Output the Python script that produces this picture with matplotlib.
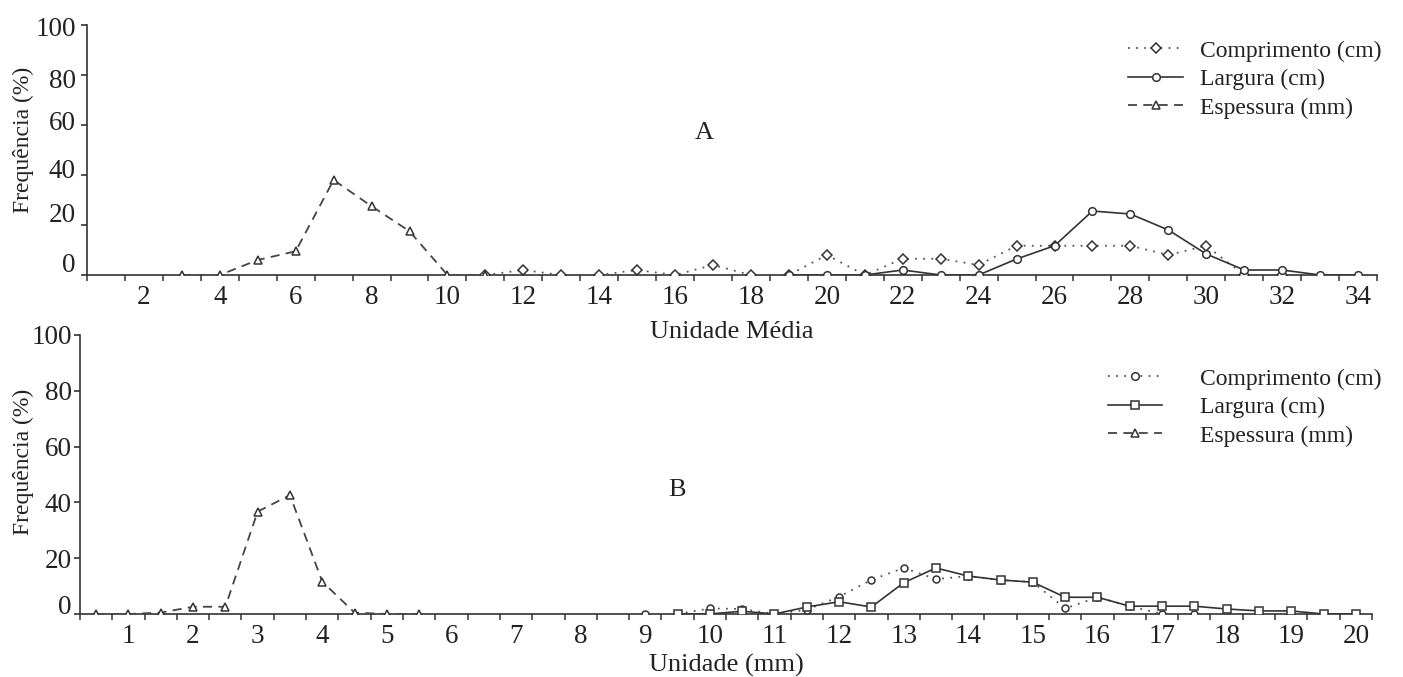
import matplotlib
matplotlib.use("Agg")
import matplotlib.pyplot as plt
from matplotlib.transforms import ScaledTranslation
from matplotlib.lines import Line2D

plt.rcParams['font.family'] = ['Liberation Serif', 'DejaVu Serif']

# ---------------- data: panel A ----------------
x_esp_a = [3, 4, 5, 6, 7, 8, 9, 10, 11]
esp_a = [0, 0, 6, 9.5, 38, 27.5, 17.5, 0, 0]

x_comp_a = [11, 12, 13, 14, 15, 16, 17, 18, 19, 20, 21, 22, 23, 24, 25, 26,
            27, 28, 29, 30, 31, 32]
comp_a = [0, 2, 0, 0, 2, 0, 4, 0, 0, 8, 0, 6.5, 6.5, 4, 11.7, 11.7,
          11.7, 11.7, 8, 11.7, 0, 0]

x_larg_a = [19, 20, 21, 22, 23, 24, 25, 26, 27, 28, 29, 30, 31, 32, 33, 34]
larg_a = [0, 0, 0, 2, 0, 0, 6.4, 11.7, 25.6, 24.4, 18, 8.4, 2, 2, 0, 0]

xticks_a = [2, 4, 6, 8, 10, 12, 14, 16, 18, 20, 22, 24, 26, 28, 30, 32, 34]

# ---------------- data: panel B ----------------
x_esp_b = [0.5, 1, 1.5, 2, 2.5, 3, 3.5, 4, 4.5, 5, 5.5]
esp_b = [0, 0, 0.5, 2.6, 2.6, 36.7, 42.6, 11.6, 0.5, 0, 0]

x_comp_b = [9, 9.5, 10, 10.5, 11, 11.5, 12, 12.5, 13, 13.5, 14, 14.5, 15,
            15.5, 16, 16.5, 17, 17.5]
comp_b = [0, 0, 2, 1.8, 0, 1.5, 6.2, 12.2, 16.5, 12.5, 13.6, 12.2, 11.4,
          2, 6, 2.8, 0, 0]

x_larg_b = [9.5, 10, 10.5, 11, 11.5, 12, 12.5, 13, 13.5, 14, 14.5, 15, 15.5,
            16, 16.5, 17, 17.5, 18, 18.5, 19, 19.5, 20]
larg_b = [0, 0, 1, 0, 2.5, 4.4, 2.5, 11.2, 16.5, 13.6, 12.2, 11.4, 6,
          6, 2.8, 2.8, 2.8, 1.8, 1.1, 1.1, 0, 0]

xticks_b = list(range(1, 21))
yticks = [0, 20, 40, 60, 80, 100]

labels = ['Comprimento (cm)', 'Largura (cm)', 'Espessura (mm)']

# ---------------- figure ----------------
W, H = 1403, 677
fig = plt.figure(figsize=(W / 100, H / 100), dpi=100)
fig.patch.set_facecolor('white')

ax1 = fig.add_axes([87 / W, 1 - 275 / H, 1290 / W, 250 / H])
ax2 = fig.add_axes([80 / W, 1 - 614 / H, 1292 / W, 279 / H])
ax1.set_facecolor('none')
ax2.set_facecolor('none')

dot_style = dict(color='#555555', lw=1.3, ls=(0, (1, 3.5)), mfc='white',
                 mec='#333333', mew=1.1, zorder=3)
sol_style = dict(color='#333333', lw=1.2, ls='-', mfc='white',
                 mec='#333333', mew=1.1, zorder=4)
das_style = dict(color='#444444', lw=1.3, ls=(0, (5, 3.5)), mfc='white',
                 mec='#333333', mew=1.1, zorder=3)

# panel A
ax1.plot(x_comp_a, comp_a, marker='D', ms=5, **dot_style)
ax1.plot(x_larg_a, larg_a, marker='o', ms=5.5, **sol_style)
ax1.plot(x_esp_a, esp_a, marker='^', ms=5.5, **das_style)

# panel B
ax2.plot(x_comp_b, comp_b, marker='o', ms=5, **dot_style)
ax2.plot(x_larg_b, larg_b, marker='s', ms=5.5, **sol_style)
ax2.plot(x_esp_b, esp_b, marker='^', ms=5.5, **das_style)

TICK_FS = 19.5


def style_axis(ax, xlim, xt, minor_start, minor_step, ylab_pad, xlab_pad):
    ax.set_xlim(*xlim)
    ax.set_ylim(0, 100)
    for s in ['top', 'right']:
        ax.spines[s].set_visible(False)
    for s in ['left', 'bottom']:
        ax.spines[s].set_color('#333333')
        ax.spines[s].set_linewidth(1.2)
    ax.set_xticks(xt)
    ax.set_xticklabels([str(v) for v in xt])
    minors = []
    v = minor_start
    while v <= xlim[1] + 1e-9:
        minors.append(v)
        v += minor_step
    ax.set_xticks(minors, minor=True)
    ax.tick_params(axis='x', which='major', length=0, pad=xlab_pad,
                   labelsize=TICK_FS, colors='#222222')
    ax.tick_params(axis='x', which='minor', length=4, width=1.1,
                   direction='out', color='#333333')
    ax.set_yticks(yticks)
    ax.set_yticklabels([str(v) for v in yticks])
    ax.tick_params(axis='y', which='major', length=4, width=1.1,
                   direction='out', pad=ylab_pad, labelsize=TICK_FS,
                   colors='#222222')


style_axis(ax1, (0.5, 34.5), xticks_a, 0.5, 1.0, 4, 7.5)
style_axis(ax2, (0.25, 20.25), xticks_b, 0.25, 0.5, 2, 7)

# y tick label vertical quirks (pixels up)
off_a = {0: 12, 20: 12, 40: 6, 60: 4, 80: -3, 100: -2}
off_b = {0: 9}
for ax, offs in ((ax1, off_a), (ax2, off_b)):
    for tick, val in zip(ax.yaxis.get_major_ticks(), yticks):
        dy = offs.get(val, 0)
        if dy:
            tr = tick.label1.get_transform() + ScaledTranslation(
                0, dy / 100, fig.dpi_scale_trans)
            tick.label1.set_transform(tr)

# axis labels
ax1.set_xlabel('Unidade Média', fontsize=19, color='#222222')
ax1.xaxis.set_label_coords(0.5, -0.228)
ax1.xaxis.label.set_va('center')
ax1.xaxis.label.set_zorder(10)
ax2.set_xlabel('Unidade (mm)', fontsize=19, color='#222222')
ax2.xaxis.set_label_coords(0.5, -0.183)
ax2.xaxis.label.set_va('center')

ax1.set_ylabel('Frequência (%)', fontsize=17, color='#222222')
ax1.yaxis.set_label_coords(-0.0496, 0.54)
ax1.yaxis.label.set_va('center')
ax2.set_ylabel('Frequência (%)', fontsize=17, color='#222222')
ax2.yaxis.set_label_coords(-0.0441, 0.545)
ax2.yaxis.label.set_va('center')

# panel letters
ax1.text(16.78, 56.8, 'A', fontsize=19, ha='center', va='center',
         color='#222222')
ax2.text(9.49, 44.4, 'B', fontsize=19, ha='center', va='center',
         color='#222222')


def make_handles(markers):
    styles = [dot_style, sol_style, das_style]
    hs = []
    for st, m in zip(styles, markers):
        st2 = dict(st)
        st2.pop('zorder')
        hs.append(Line2D([], [], marker=m, ms=5.5, **st2))
    return hs


leg1 = fig.legend(make_handles(['D', 'o', '^']), labels,
                  loc='upper left', bbox_to_anchor=(1128 / W, 1 - 40 / H),
                  bbox_transform=fig.transFigure, frameon=False,
                  fontsize=17, handlelength=2.35, handletextpad=0.72,
                  labelspacing=0.3, borderpad=0, borderaxespad=0)
for t in leg1.get_texts():
    t.set_color('#222222')

leg2 = fig.legend(make_handles(['o', 's', '^']), labels,
                  loc='upper left', bbox_to_anchor=(1108 / W, 1 - 368 / H),
                  bbox_transform=fig.transFigure, frameon=False,
                  fontsize=17, handlelength=2.3, handletextpad=1.6,
                  labelspacing=0.3, borderpad=0, borderaxespad=0)
for t in leg2.get_texts():
    t.set_color('#222222')

fig.savefig('out.png', dpi=100, facecolor='white')
